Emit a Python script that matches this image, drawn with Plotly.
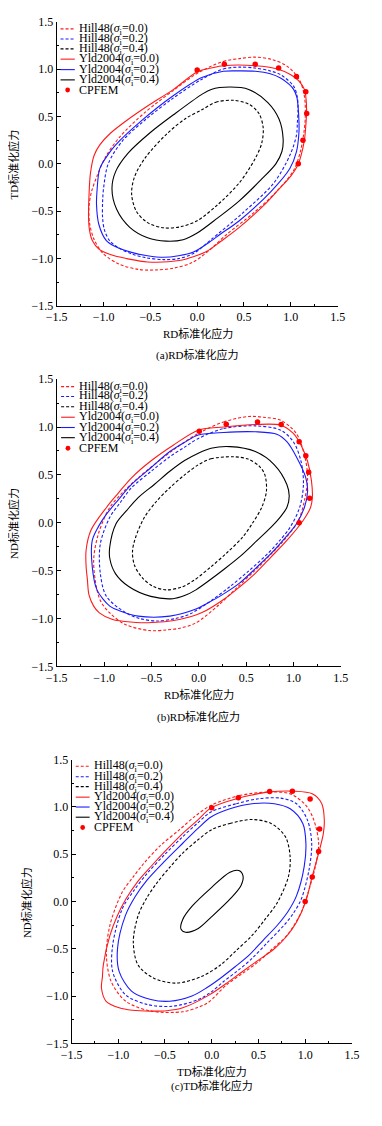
import plotly.graph_objects as go

W, H = 382, 1126
OFF = 8  # page body margin of the browser
FONT = "Liberation Serif, Noto Sans CJK SC, serif"

# ---------------- data: panel (a) RD-TD ----------------
a_yld00_x = [0.01, 0.15, 0.28, 0.62, 0.857, 1.0, 1.08, 1.145, 1.165, 1.168, 1.16, 1.145, 1.11, 1.077, 1.0, 0.87, 0.72, 0.45, 0.25, 0.11, -0.04, -0.19, -0.53, -0.75, -0.92, -1.05, -1.12, -1.15, -1.16, -1.155, -1.14, -1.10, -1.04, -0.93, -0.75, -0.53, -0.26]
a_yld00_y = [0.976, 1.01, 1.035, 1.035, 1.0, 0.94, 0.88, 0.785, 0.66, 0.54, 0.40, 0.25, 0.09, -0.01, -0.13, -0.27, -0.43, -0.67, -0.82, -0.92, -0.98, -1.02, -1.035, -1.0, -0.96, -0.90, -0.81, -0.70, -0.57, -0.33, -0.10, 0.09, 0.20, 0.32, 0.46, 0.61, 0.78]
a_hill00_x = [0.01, 0.28, 0.45, 0.62, 0.80, 0.96, 1.09, 1.145, 1.155, 1.14, 1.10, 1.03, 0.84, 0.60, 0.32, 0.12, -0.05, -0.25, -0.45, -0.62, -0.83, -1.00, -1.10, -1.15, -1.155, -1.13, -1.07, -0.98, -0.83, -0.56, -0.26]
a_hill00_y = [0.96, 1.08, 1.11, 1.125, 1.10, 1.03, 0.89, 0.715, 0.5, 0.33, 0.12, -0.07, -0.30, -0.52, -0.74, -0.92, -1.04, -1.10, -1.12, -1.115, -1.06, -0.95, -0.80, -0.62, -0.45, -0.30, -0.13, 0.07, 0.28, 0.54, 0.77]
a_yld02_x = [0.05, 0.28, 0.45, 0.62, 0.78, 0.89, 0.98, 1.03, 1.065, 1.077, 1.087, 1.087, 1.06, 0.99, 0.79, 0.45, 0.25, 0.11, -0.04, -0.20, -0.36, -0.53, -0.70, -0.88, -0.97, -1.05, -1.075, -1.07, -1.04, -0.95, -0.87, -0.60, -0.26]
a_yld02_y = [0.91, 0.976, 0.98, 0.976, 0.95, 0.906, 0.84, 0.785, 0.70, 0.61, 0.45, 0.333, 0.125, -0.05, -0.29, -0.60, -0.74, -0.84, -0.93, -0.97, -0.986, -0.97, -0.934, -0.87, -0.81, -0.64, -0.43, -0.29, -0.05, 0.10, 0.20, 0.45, 0.715]
a_hill02_x = [0.046, 0.28, 0.45, 0.62, 0.78, 0.89, 1.03, 1.07, 1.077, 1.07, 1.06, 0.99, 0.82, 0.485, 0.147, -0.03, -0.20, -0.36, -0.55, -0.70, -0.85, -0.935, -0.99, -1.01, -1.01, -1.0, -0.95, -0.80, -0.56, -0.26]
a_hill02_y = [0.89, 1.0, 1.02, 1.01, 0.98, 0.94, 0.82, 0.70, 0.576, 0.43, 0.30, 0.09, -0.20, -0.52, -0.80, -0.94, -1.0, -1.01, -0.99, -0.95, -0.88, -0.81, -0.70, -0.57, -0.40, -0.26, 0.0, 0.24, 0.46, 0.69]
a_yld04_x = [0.046, 0.15, 0.35, 0.55, 0.755, 0.874, 0.918, 0.905, 0.84, 0.68, 0.45, 0.22, 0.0, -0.15, -0.33, -0.53, -0.72, -0.86, -0.91, -0.87, -0.74, -0.5, -0.25]
a_yld04_y = [0.73, 0.785, 0.81, 0.785, 0.646, 0.472, 0.264, 0.13, 0.0, -0.17, -0.39, -0.57, -0.73, -0.80, -0.815, -0.78, -0.67, -0.48, -0.26, -0.08, 0.11, 0.33, 0.52]
a_hill04_x = [0.05, 0.2, 0.38, 0.55, 0.66, 0.705, 0.69, 0.62, 0.45, 0.22, 0.0, -0.18, -0.36, -0.53, -0.65, -0.70, -0.67, -0.55, -0.32, -0.12]
a_hill04_y = [0.57, 0.65, 0.67, 0.63, 0.53, 0.38, 0.22, 0.056, -0.20, -0.43, -0.60, -0.665, -0.675, -0.62, -0.50, -0.32, -0.14, 0.07, 0.32, 0.48]
a_cp_x = [0.0, 0.29, 0.62, 0.87, 1.06, 1.16, 1.17, 1.13, 1.08]
a_cp_y = [0.99, 1.05, 1.05, 1.01, 0.92, 0.76, 0.53, 0.25, 0.0]

# ---------------- data: panel (b) RD-ND ----------------
b_yld00_x = [-0.005, 0.262, 0.597, 0.865, 0.998, 1.08, 1.149, 1.19, 1.199, 1.18, 1.10, 0.93, 0.76, 0.597, 0.43, 0.262, 0.028, -0.206, -0.54, -0.78, -0.91, -1.05, -1.11, -1.16, -1.176, -1.19, -1.19, -1.14, -0.975, -0.85, -0.71, -0.50, -0.27]
b_yld00_y = [0.967, 1.0, 1.026, 1.019, 0.933, 0.81, 0.64, 0.435, 0.263, 0.16, 0.022, -0.184, -0.36, -0.527, -0.67, -0.80, -0.94, -1.01, -1.043, -1.03, -1.01, -0.94, -0.87, -0.75, -0.596, -0.45, -0.287, -0.08, 0.16, 0.31, 0.47, 0.65, 0.81]
b_hill00_x = [-0.005, 0.262, 0.53, 0.70, 0.865, 1.03, 1.115, 1.149, 1.115, 1.05, 0.898, 0.75, 0.597, 0.40, 0.196, -0.04, -0.20, -0.34, -0.52, -0.78, -0.94, -1.03, -1.075, -1.11, -1.06, -0.94, -0.80, -0.64, -0.27]
b_hill00_y = [0.933, 1.053, 1.11, 1.10, 1.07, 0.933, 0.71, 0.47, 0.23, 0.022, -0.184, -0.34, -0.493, -0.68, -0.871, -1.05, -1.10, -1.118, -1.125, -1.06, -0.94, -0.83, -0.70, -0.39, -0.115, 0.16, 0.32, 0.47, 0.76]
b_yld02_x = [-0.005, 0.262, 0.597, 0.83, 0.93, 1.03, 1.13, 1.149, 1.115, 1.03, 0.90, 0.764, 0.60, 0.43, 0.25, 0.095, -0.03, -0.306, -0.64, -0.83, -0.94, -1.075, -1.125, -1.125, -1.06, -0.975, -0.85, -0.71, -0.50, -0.306, -0.15]
b_yld02_y = [0.916, 0.943, 0.95, 0.923, 0.847, 0.69, 0.47, 0.33, 0.16, -0.012, -0.17, -0.32, -0.475, -0.63, -0.75, -0.837, -0.90, -0.974, -0.974, -0.92, -0.87, -0.70, -0.458, -0.184, -0.04, 0.09, 0.24, 0.40, 0.58, 0.744, 0.84]
b_hill02_x = [-0.005, 0.262, 0.597, 0.865, 0.998, 1.08, 1.105, 1.065, 0.965, 0.85, 0.73, 0.53, 0.33, 0.12, -0.09, -0.25, -0.44, -0.62, -0.77, -0.975, -1.04, -1.04, -0.94, -0.83, -0.71, -0.50, -0.306, -0.15]
b_hill02_y = [0.88, 0.984, 1.012, 0.967, 0.847, 0.64, 0.40, 0.16, -0.046, -0.19, -0.32, -0.50, -0.665, -0.82, -0.95, -1.0, -1.025, -1.0, -0.94, -0.768, -0.527, -0.22, 0.057, 0.21, 0.366, 0.54, 0.69, 0.79]
b_yld04_x = [-0.005, 0.129, 0.33, 0.597, 0.798, 0.93, 0.955, 0.93, 0.86, 0.764, 0.60, 0.43, 0.26, 0.095, -0.03, -0.15, -0.273, -0.507, -0.74, -0.88, -0.94, -0.94, -0.875, -0.76, -0.64, -0.47, -0.306, -0.15]
b_yld04_y = [0.727, 0.778, 0.795, 0.744, 0.606, 0.40, 0.28, 0.16, 0.06, -0.046, -0.20, -0.356, -0.49, -0.613, -0.70, -0.76, -0.792, -0.768, -0.665, -0.53, -0.37, -0.25, -0.012, 0.13, 0.263, 0.40, 0.538, 0.65]
b_hill04_x = [-0.005, 0.129, 0.36, 0.52, 0.64, 0.697, 0.714, 0.664, 0.57, 0.463, 0.30, 0.129, -0.05, -0.18, -0.34, -0.48, -0.60, -0.68, -0.70, -0.67, -0.574, -0.45, -0.306, -0.15]
b_hill04_y = [0.606, 0.668, 0.69, 0.665, 0.59, 0.503, 0.33, 0.16, 0.0, -0.15, -0.31, -0.459, -0.60, -0.67, -0.70, -0.665, -0.57, -0.44, -0.30, -0.16, 0.057, 0.22, 0.366, 0.50]
b_cp_x = [0.005, 0.29, 0.62, 0.87, 1.06, 1.13, 1.16, 1.17, 1.06]
b_cp_y = [0.957, 1.03, 1.053, 1.025, 0.847, 0.70, 0.527, 0.256, 0.0]

# ---------------- data: panel (c) TD-ND ----------------
c_yld00_x = [-0.008, 0.297, 0.45, 0.60, 0.873, 1.076, 1.178, 1.205, 1.195, 1.144, 1.076, 1.008, 0.907, 0.80, 0.67, 0.50, 0.33, 0.15, -0.03, -0.31, -0.48, -0.65, -0.85, -0.99, -1.13, -1.18, -1.17, -1.16, -1.09, -1.01, -0.92, -0.80, -0.65, -0.48, -0.31, -0.15]
c_yld00_y = [0.99, 1.096, 1.13, 1.156, 1.166, 1.138, 1.034, 0.86, 0.72, 0.51, 0.268, 0.007, -0.22, -0.37, -0.50, -0.62, -0.74, -0.87, -0.99, -1.124, -1.155, -1.159, -1.15, -1.124, -1.055, -0.915, -0.80, -0.67, -0.36, -0.15, 0.024, 0.20, 0.37, 0.55, 0.72, 0.86]
c_hill00_x = [-0.008, 0.297, 0.60, 0.84, 1.008, 1.093, 1.144, 1.11, 1.042, 0.958, 0.805, 0.65, 0.50, 0.33, 0.16, -0.04, -0.15, -0.31, -0.65, -0.92, -1.076, -1.127, -1.09, -0.96, -0.84, -0.72, -0.55, -0.35, -0.18]
c_hill00_y = [1.016, 1.12, 1.156, 1.138, 1.016, 0.86, 0.616, 0.372, 0.129, -0.115, -0.359, -0.50, -0.637, -0.76, -0.88, -1.07, -1.12, -1.166, -1.159, -1.055, -0.846, -0.567, -0.254, 0.094, 0.26, 0.41, 0.59, 0.755, 0.90]
c_yld02_x = [-0.008, 0.195, 0.432, 0.67, 0.84, 0.975, 1.008, 0.99, 0.907, 0.82, 0.70, 0.55, 0.40, 0.25, 0.093, -0.05, -0.212, -0.449, -0.652, -0.856, -0.99, -1.008, -0.924, -0.82, -0.686, -0.50, -0.31, -0.15]
c_yld02_y = [0.894, 0.98, 1.034, 1.034, 0.98, 0.825, 0.616, 0.372, 0.059, -0.10, -0.254, -0.41, -0.567, -0.69, -0.811, -0.91, -1.0, -1.055, -1.037, -0.95, -0.741, -0.498, -0.15, 0.05, 0.233, 0.43, 0.616, 0.77]
c_hill02_x = [-0.008, 0.263, 0.50, 0.737, 0.907, 1.025, 1.07, 1.042, 0.958, 0.87, 0.771, 0.60, 0.432, 0.28, 0.127, -0.01, -0.144, -0.415, -0.686, -0.924, -1.06, -1.06, -0.958, -0.83, -0.686, -0.50, -0.31, -0.15]
c_hill02_y = [0.947, 1.034, 1.086, 1.093, 1.034, 0.86, 0.616, 0.338, 0.024, -0.13, -0.254, -0.43, -0.602, -0.73, -0.846, -0.96, -1.037, -1.107, -1.09, -0.985, -0.741, -0.463, -0.08, 0.12, 0.303, 0.50, 0.686, 0.83]
c_yld04_x = [0.195, 0.29, 0.335, 0.314, 0.2, 0.0, -0.144, -0.28, -0.33, -0.31, -0.21, 0.0]
c_yld04_y = [0.31, 0.327, 0.27, 0.17, 0.03, -0.16, -0.285, -0.325, -0.29, -0.19, -0.05, 0.15]
c_hill04_x = [0.0, 0.195, 0.432, 0.636, 0.788, 0.839, 0.822, 0.703, 0.57, 0.432, 0.26, 0.093, -0.11, -0.381, -0.619, -0.788, -0.839, -0.788, -0.70, -0.585, -0.45, -0.31, -0.15]
c_hill04_y = [0.76, 0.825, 0.867, 0.825, 0.686, 0.477, 0.268, -0.01, -0.19, -0.359, -0.52, -0.672, -0.794, -0.863, -0.811, -0.672, -0.428, -0.15, 0.03, 0.198, 0.36, 0.512, 0.65]
c_cp_x = [0.0, 0.285, 0.62, 0.863, 1.053, 1.154, 1.144, 1.076, 1.0]
c_cp_y = [0.99, 1.096, 1.163, 1.166, 1.083, 0.766, 0.529, 0.258, 0.0]

series_names = ["Hill48(<i>σ</i><sub>i</sub>=0.0)", "Hill48(<i>σ</i><sub>i</sub>=0.2)", "Hill48(<i>σ</i><sub>i</sub>=0.4)",
                "Yld2004(<i>σ</i><sub>i</sub>=0.0)", "Yld2004(<i>σ</i><sub>i</sub>=0.2)", "Yld2004(<i>σ</i><sub>i</sub>=0.4)", "CPFEM"]
tick_vals = [-1.5, -1.0, -0.5, 0.0, 0.5, 1.0, 1.5]
x_titles = ["RD标准化应力", "RD标准化应力", "TD标准化应力"]
y_titles = ["TD标准化应力", "ND标准化应力", "ND标准化应力"]
captions = ["(a)RD标准化应力", "(b)RD标准化应力", "(c)TD标准化应力"]

RED, BLUE, BLACK = "#ff1a1a", "#1a1aff", "#000000"
DASH = "3px,2px"
styles = [(RED, DASH), (BLUE, DASH), (BLACK, DASH), (RED, "solid"), (BLUE, "solid"), (BLACK, "solid")]

panels = [
    [(a_hill00_x, a_hill00_y), (a_hill02_x, a_hill02_y), (a_hill04_x, a_hill04_y),
     (a_yld00_x, a_yld00_y), (a_yld02_x, a_yld02_y), (a_yld04_x, a_yld04_y), (a_cp_x, a_cp_y)],
    [(b_hill00_x, b_hill00_y), (b_hill02_x, b_hill02_y), (b_hill04_x, b_hill04_y),
     (b_yld00_x, b_yld00_y), (b_yld02_x, b_yld02_y), (b_yld04_x, b_yld04_y), (b_cp_x, b_cp_y)],
    [(c_hill00_x, c_hill00_y), (c_hill02_x, c_hill02_y), (c_hill04_x, c_hill04_y),
     (c_yld00_x, c_yld00_y), (c_yld02_x, c_yld02_y), (c_yld04_x, c_yld04_y), (c_cp_x, c_cp_y)],
]

# pixel layout in the screenshot (left, right, top, bottom) of each plot area
boxes = [(47.7, 343.3, 14.7, 302.7), (47.7, 346.7, 376.7, 667.7), (63.3, 358.3, 762.0, 1049.3)]
legend_rows = [[22, 32.3, 42.3, 52.7, 63.3, 73.7, 84],
               [384.3, 394.3, 404.7, 415.3, 425.7, 436, 446.7],
               [768.7, 779.3, 789.3, 800, 810, 820.3, 830.7]]
legend_x = [(51.7, 66.7, 69.3), (52.3, 66.7, 69.3), (67.7, 82.3, 85)]
ytitle_pos = [(2, 159), (2, 523), (16.7, 907)]
xtitle_pos = [(196, 331), (197, 696), (211, 1077.3)]
caption_pos = [(195.7, 352), (197, 719.3), (210.7, 1092.7)]


def px(x):
    return (x - OFF) / W


def py(y):
    return 1 - (y - OFF) / H


fig = go.Figure()
annotations = []
shapes = []

for p, data in enumerate(panels):
    xa = "x" if p == 0 else f"x{p+1}"
    ya = "y" if p == 0 else f"y{p+1}"
    for k in range(6):
        xs, ys = data[k]
        col, dash = styles[k]
        fig.add_trace(go.Scatter(x=list(xs) + [xs[0]], y=list(ys) + [ys[0]], mode="lines",
                                 line=dict(color=col, width=1.1, dash=dash, shape="spline", smoothing=0.9),
                                 xaxis=xa, yaxis=ya, showlegend=False, hoverinfo="skip"))
    xs, ys = data[6]
    fig.add_trace(go.Scatter(x=xs, y=ys, mode="markers", marker=dict(color="#ff0000", size=5.5),
                             xaxis=xa, yaxis=ya, showlegend=False))

    l, r, t, b = boxes[p]
    axis_common = dict(range=[-1.5, 1.5], tickvals=tick_vals, tickformat=".1f", ticks="inside", ticklen=4,
                       tickwidth=1, tickcolor="black", showline=True, linecolor="black", linewidth=1,
                       mirror=False, showgrid=False, zeroline=False,
                       minor=dict(dtick=0.25, tick0=0, ticks="inside", ticklen=2.5, tickcolor="black"),
                       tickfont=dict(family=FONT, size=12, color="black"))
    fig.update_layout(**{
        ("xaxis" if p == 0 else f"xaxis{p+1}"): dict(domain=[px(l), px(r)], anchor=ya, **axis_common),
        ("yaxis" if p == 0 else f"yaxis{p+1}"): dict(domain=[py(b), py(t)], anchor=xa, **axis_common),
    })

    # legend (drawn inside the plot area, upper left)
    lx0, lx1, tx = legend_x[p]
    for k, name in enumerate(series_names):
        yy = legend_rows[p][k]
        if k < 6:
            col, dash = styles[k]
            shapes.append(dict(type="line", xref="paper", yref="paper", x0=px(lx0), x1=px(lx1),
                               y0=py(yy), y1=py(yy), line=dict(color=col, width=1.1, dash=dash)))
        else:
            cx = (lx0 + lx1) / 2
            shapes.append(dict(type="circle", xref="paper", yref="paper", x0=px(cx - 2.5), x1=px(cx + 2.5),
                               y0=py(yy + 2.5), y1=py(yy - 2.5), fillcolor="#ff0000", line=dict(width=0)))
        annotations.append(dict(text=name, xref="paper", yref="paper", x=px(tx), y=py(yy),
                                xanchor="left", yanchor="middle", showarrow=False,
                                font=dict(family=FONT, size=12, color="black")))

    ytx, yty = ytitle_pos[p]
    annotations.append(dict(text=y_titles[p], xref="paper", yref="paper", x=px(ytx), y=py(yty),
                            xanchor="center", yanchor="middle", textangle=-90, showarrow=False,
                            font=dict(family=FONT, size=11, color="black")))
    xtx, xty = xtitle_pos[p]
    annotations.append(dict(text=x_titles[p], xref="paper", yref="paper", x=px(xtx), y=py(xty),
                            xanchor="center", yanchor="middle", showarrow=False,
                            font=dict(family=FONT, size=11, color="black")))
    cx, cy = caption_pos[p]
    annotations.append(dict(text=captions[p], xref="paper", yref="paper", x=px(cx), y=py(cy),
                            xanchor="center", yanchor="middle", showarrow=False,
                            font=dict(family=FONT, size=11, color="black")))

fig.update_layout(width=W, height=H, autosize=False, margin=dict(l=0, r=0, t=0, b=0),
                  paper_bgcolor="white", plot_bgcolor="white", showlegend=False,
                  annotations=annotations, shapes=shapes, font=dict(family=FONT, color="black"))

fig.write_html("out.html")
